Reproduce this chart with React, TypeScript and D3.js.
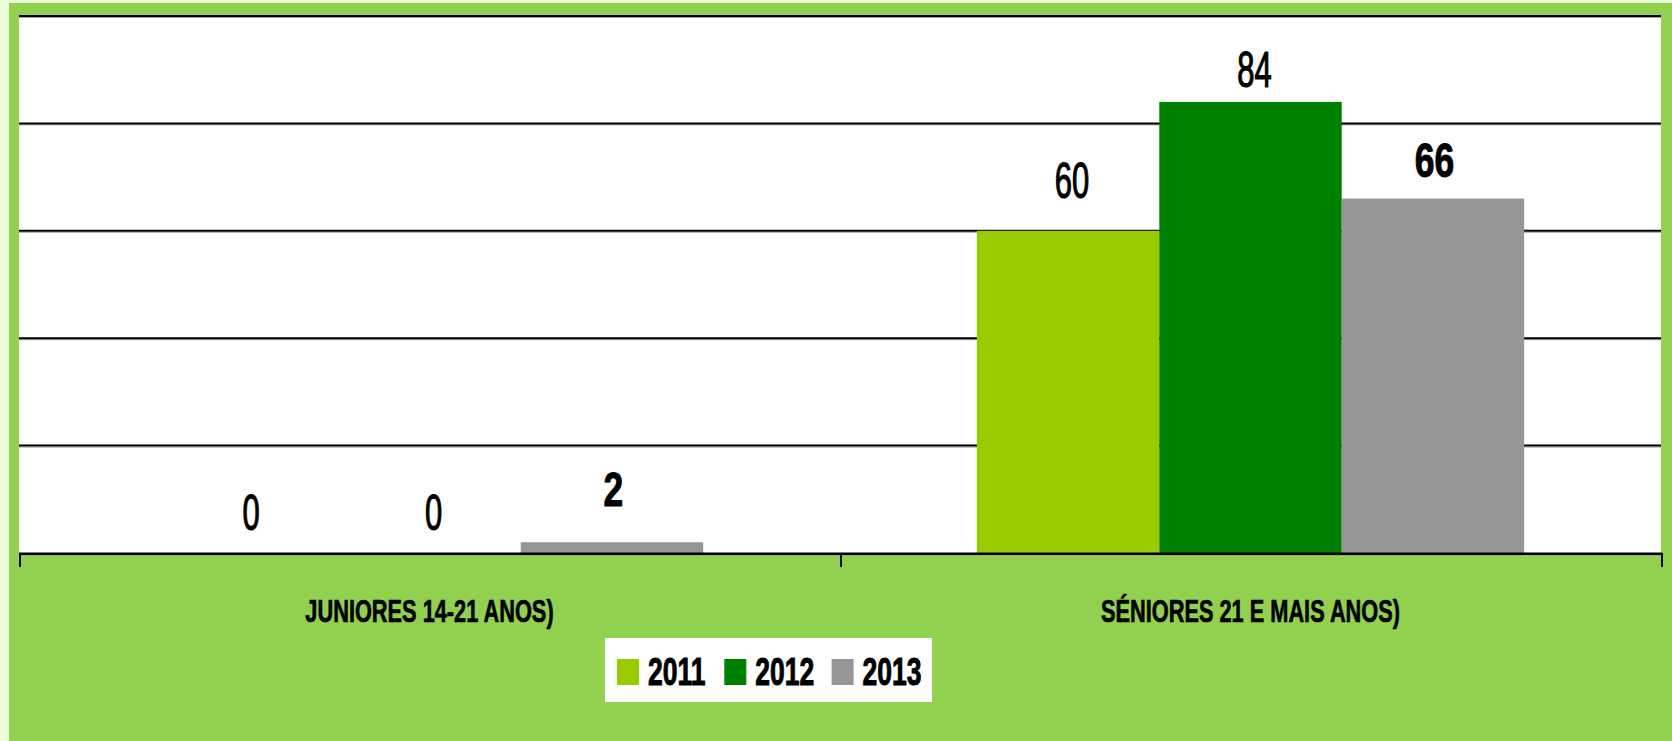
import React from 'react';
import * as d3 from 'd3';

// ---- data ----
const categories = ['JUNIORES 14-21 ANOS)', 'SÉNIORES 21 E MAIS ANOS)'];
const seriesNames = ['2011', '2012', '2013'];
const values2011 = [0, 60];
const values2012 = [0, 84];
const values2013 = [2, 66];
const yTicks = [0, 20, 40, 60, 80, 100];

// ---- styles / layout ----
const seriesColors = ['#99CC00', '#008000', '#969696'];
const seriesBold = [false, false, true];
const labelLift = [[23, 33], [23, 15], [36, 22]]; // px above bar top for value labels
const W = 1672;
const H = 741;
const plot = { left: 19, right: 1661, top: 16, bottom: 553 };
const FONT = '"Liberation Sans", Arial, sans-serif';

function CondText({ x, y, sx, size, bold, anchor, thick, children }: any) {
  return (
    <g transform={`translate(${x},${y}) scale(${sx},1)`}>
      <text x={0} y={0} fontFamily={FONT} fontSize={size} fontWeight={bold ? 700 : 400}
        textAnchor={anchor || 'middle'} fill="#000"
        stroke={thick ? '#000' : 'none'} strokeWidth={thick || 0} strokeLinejoin="round">{children}</text>
    </g>
  );
}

export default function App() {
  const series = [values2011, values2012, values2013];
  const x0 = d3.scaleBand<string>().domain(categories).range([plot.left, plot.right]).padding(0);
  const x1 = d3.scaleBand<string>().domain(seriesNames).range([0, x0.bandwidth()])
    .paddingInner(0).paddingOuter(0.75);
  const y = d3.scaleLinear().domain([0, 100]).range([plot.bottom, plot.top]);

  const legendX = 605, legendY = 638;
  const legendStep = 107.3;

  return (
    <div style={{ position: 'absolute', left: 0, top: 0 }}>
      <svg width={W} height={H} style={{ display: 'block' }}>
        <rect x={0} y={0} width={W} height={H} fill="#EBFDD6" />
        <rect x={9} y={3} width={W - 9} height={H - 3} fill="#92D050" />
        <rect x={plot.left} y={plot.top} width={plot.right - plot.left} height={plot.bottom - plot.top} fill="#fff" />

        {/* gridlines */}
        {yTicks.filter(t => t > 0).map(t => (
          <g key={t}>
            <line x1={plot.left} x2={plot.right} y1={y(t) + 1.5} y2={y(t) + 1.5} stroke="#a0a0a0" strokeWidth={1} />
            <line x1={plot.left} x2={plot.right} y1={y(t)} y2={y(t)} stroke="#000" strokeWidth={2} />
          </g>
        ))}

        {/* bars */}
        {categories.map((c, ci) => (
          <g key={c}>
            {seriesNames.map((s, si) => {
              const v = series[si][ci];
              const bx = (x0(c) as number) + (x1(s) as number);
              return (
                <rect key={s} x={bx} y={y(v)} width={x1.bandwidth()} height={y(0) - y(v)} fill={seriesColors[si]} />
              );
            })}
          </g>
        ))}

        {/* axis */}
        <line x1={plot.left} x2={plot.right + 1} y1={y(0) + 2.2} y2={y(0) + 2.2} stroke="#a0a0a0" strokeWidth={1} />
        <line x1={plot.left} x2={plot.right + 1} y1={y(0) + 0.8} y2={y(0) + 0.8} stroke="#000" strokeWidth={2.4} />
        {[...categories.map(c => x0(c) as number), plot.right].map((tx, i) => (
          <line key={i} x1={tx + 1} x2={tx + 1} y1={y(0)} y2={y(0) + 14} stroke="#000" strokeWidth={2} />
        ))}

        {/* value labels */}
        {categories.map((c, ci) => seriesNames.map((s, si) => {
          const v = series[si][ci];
          const cx = (x0(c) as number) + (x1(s) as number) + x1.bandwidth() / 2;
          const bold = seriesBold[si];
          return (
            <CondText key={c + s} x={cx + (bold ? 1.5 : 4)} y={y(v) - labelLift[si][ci]}
              sx={bold ? 0.74 : 0.62} size={bold ? 48 : 50} bold={bold} thick={bold ? 1 : 1.2}>{String(v)}</CondText>
          );
        }))}

        {/* category labels */}
        {categories.map(c => (
          <CondText key={c} x={(x0(c) as number) + x0.bandwidth() / 2} y={622} sx={0.68} size={32} bold thick={0.7}>{c}</CondText>
        ))}

        {/* legend */}
        <rect x={legendX} y={legendY} width={327} height={64} fill="#fff" />
        {seriesNames.map((s, si) => (
          <g key={s}>
            <rect x={legendX + 12 + si * legendStep} y={659} width={22} height={26} fill={seriesColors[si]} />
            <CondText x={legendX + 43 + si * legendStep} y={685} sx={0.68} size={39} bold thick={1} anchor="start">{s}</CondText>
          </g>
        ))}
      </svg>
    </div>
  );
}
